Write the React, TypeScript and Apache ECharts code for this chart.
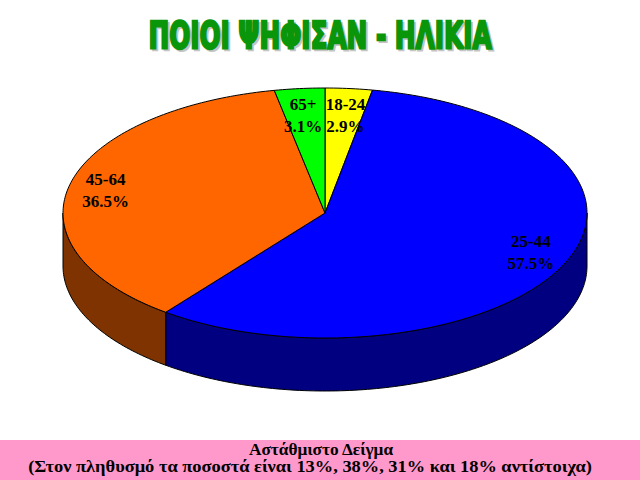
import React, { useEffect, useRef } from "react";
import * as echarts from "echarts";

// Age groups, clockwise from 12 o'clock
const categories = ["18-24", "25-44", "45-64", "65+"];
const percentages = [2.9, 57.5, 36.5, 3.1];
const topColors = ["#FFFF00", "#0000FF", "#FF6600", "#00FF00"];
const sideColors = ["#808000", "#000080", "#7F3300", "#008000"];

const titleText = "ΠΟΙΟΙ ΨΗΦΙΣΑΝ - ΗΛΙΚΙΑ";
const footnoteLines = [
  "Αστάθμιστο Δείγμα",
  "(Στον πληθυσμό τα ποσοστά είναι 13%, 38%, 31% και 18% αντίστοιχα)",
];

// Tilted pie geometry
const CX = 325;
const CY = 213;
const RX = 262;
const RY = 125;
const DEPTH = 53;

const total = percentages.reduce((a, b) => a + b, 0);

function sliceAngles(i: number, value: number) {
  let before = 0;
  for (let k = 0; k < i; k++) before += percentages[k];
  const start = (before / total) * Math.PI * 2;
  const end = start + (value / total) * Math.PI * 2;
  return [start, end];
}

function pt(theta: number, dy = 0): number[] {
  return [CX + RX * Math.sin(theta), CY - RY * Math.cos(theta) + dy];
}

function arc(a0: number, a1: number, dy = 0): number[][] {
  const steps = Math.max(2, Math.ceil((a1 - a0) / (Math.PI / 180)));
  const out: number[][] = [];
  for (let s = 0; s <= steps; s++) out.push(pt(a0 + ((a1 - a0) * s) / steps, dy));
  return out;
}

export default function App() {
  const ref = useRef<HTMLDivElement>(null);

  useEffect(() => {
    if (!ref.current) return;
    const chart = echarts.init(ref.current, undefined, { renderer: "svg" });

    const data = percentages.map((v) => [v]);

    chart.setOption({
      animation: false,
      backgroundColor: "#FFFFFF",
      graphic: [
        {
          type: "text",
          x: 322,
          y: 37,
          scaleX: 0.67,
          z: 1,
          style: {
            text: titleText,
            font: "bold 37px 'DejaVu Sans'",
            fill: "#C4C4C4",
            stroke: "#C4C4C4",
            lineWidth: 2,
            align: "center",
            verticalAlign: "middle",
          },
        },
        {
          type: "text",
          x: 320,
          y: 35,
          scaleX: 0.67,
          z: 2,
          style: {
            text: titleText,
            font: "bold 37px 'DejaVu Sans'",
            fill: "#0A960A",
            stroke: "#0A960A",
            lineWidth: 2.5,
            align: "center",
            verticalAlign: "middle",
          },
        },
        {
          type: "rect",
          shape: { x: 0, y: 440, width: 640, height: 40 },
          style: { fill: "#FF99CC" },
        },
        {
          type: "text",
          x: 321,
          y: 450,
          scaleX: 1.08,
          style: {
            text: footnoteLines[0],
            font: "bold 16px 'Liberation Serif'",
            fill: "#000",
            align: "center",
            verticalAlign: "middle",
          },
        },
        {
          type: "text",
          x: 310,
          y: 467,
          scaleX: 1.15,
          style: {
            text: footnoteLines[1],
            font: "bold 16px 'Liberation Serif'",
            fill: "#000",
            align: "center",
            verticalAlign: "middle",
          },
        },
      ],
      series: [
        {
          type: "custom",
          name: "slices",
          coordinateSystem: "none",
          data,
          z: 2,
          renderItem: (params: any, api: any) => {
            const i = params.dataIndex;
            const [start, end] = sliceAngles(i, api.value(0));
            const children: any[] = [];
            // front wall is visible only on the lower half of the ellipse
            const w0 = Math.max(start, Math.PI / 2);
            const w1 = Math.min(end, (Math.PI * 3) / 2);
            if (w1 > w0) {
              const upper = arc(w0, w1);
              const lower = arc(w0, w1, DEPTH).reverse();
              children.push({
                type: "polygon",
                shape: { points: upper.concat(lower) },
                style: { fill: sideColors[i], stroke: "#000", lineWidth: 1 },
              });
            }
            children.push({
              type: "polygon",
              shape: { points: [[CX, CY]].concat(arc(start, end)) },
              style: { fill: topColors[i], stroke: "#000", lineWidth: 1 },
            });
            return { type: "group", children };
          },
        },
        {
          type: "custom",
          name: "labels",
          coordinateSystem: "none",
          data,
          z: 5,
          renderItem: (params: any, api: any) => {
            const i = params.dataIndex;
            const v = api.value(0);
            const [start, end] = sliceAngles(i, v);
            const mid = (start + end) / 2;
            const x = CX + RX * 0.86 * Math.sin(mid);
            const y = CY - RY * 0.78 * Math.cos(mid);
            return {
              type: "group",
              children: [
                {
                  type: "text",
                  style: {
                    text: categories[i],
                    x,
                    y: y - 11,
                    font: "bold 17px 'Liberation Serif'",
                    fill: "#000",
                    align: "center",
                    verticalAlign: "middle",
                  },
                },
                {
                  type: "text",
                  style: {
                    text: v.toFixed(1) + "%",
                    x,
                    y: y + 11,
                    font: "bold 17px 'Liberation Serif'",
                    fill: "#000",
                    align: "center",
                    verticalAlign: "middle",
                  },
                },
              ],
            };
          },
        },
      ],
    });

    return () => chart.dispose();
  }, []);

  return (
    <div
      ref={ref}
      style={{ position: "fixed", left: 0, top: 0, width: 640, height: 480 }}
    />
  );
}
